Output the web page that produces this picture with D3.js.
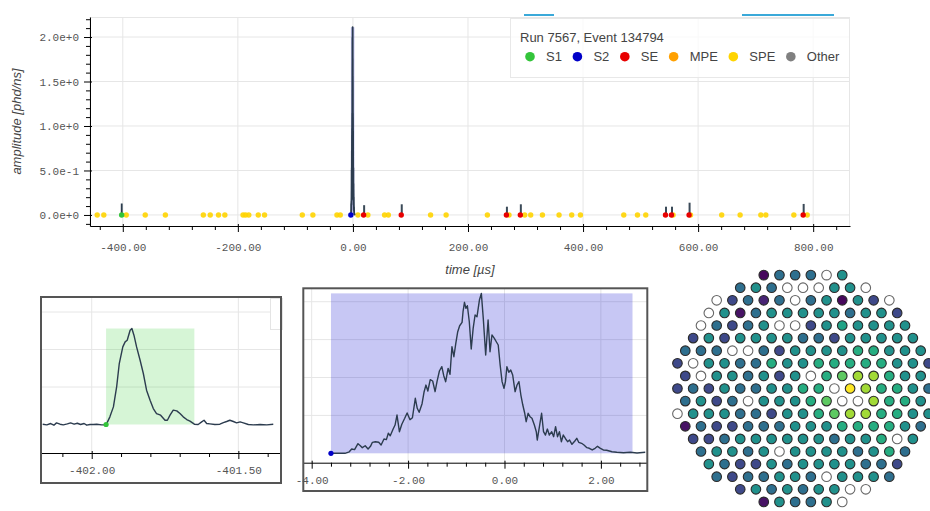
<!DOCTYPE html>
<html>
<head>
<meta charset="utf-8">
<script src="https://cdn.jsdelivr.net/npm/d3@7"></script>
<style>
  body { margin: 0; background: #fff; }
  svg { display: block; }
</style>
</head>
<body>
<svg id="chart" width="930" height="511"></svg>
<script>
// ---------------- event data ----------------
const eventTitle = "Run 7567, Event 134794";
const legendLabels = ["S1", "S2", "SE", "MPE", "SPE", "Other"];
const legendColors = ["#33c43a", "#0000c8", "#e80000", "#ffa000", "#ffd400", "#808080"];

// main time axis (µs) and amplitude axis (phd/ns)
const mainTicksX = [-400, -200, 0, 200, 400, 600, 800];
const mainTicksY = [0, 0.5, 1.0, 1.5, 2.0];

// single photoelectron pulse times (µs)
const speTimes = [-444.5, -433, -394, -361, -326, -260, -248, -233.6, -222.6, -191, -186.6, -181,
  -164.5, -153.6, -88, -69.6, -27.8, -22, 8.7, 26, 55, 61.6, 135, 162, 233.7, 271.3, 298.6, 309,
  329.4, 358.3, 380.3, 395.5, 470.8, 494.6, 509, 556.5, 586.8, 641, 673, 709, 717.7, 766.4, 789.6];

// single electron pulses: start time (µs) and peak amplitude (phd/ns)
const seTimes = [18.6, 84, 266.8, 291, 543.3, 553.7, 584.3, 782.6];
const sePeaks = [0.11, 0.12, 0.093, 0.12, 0.093, 0.093, 0.138, 0.124];

// S1 waveform (µs, phd/ns) and pulse window
const s1Time = [-402.167, -402.153, -402.140, -402.129, -402.120, -402.108, -402.097, -402.083,
  -402.072, -402.060, -402.049, -402.038, -402.026, -402.017, -402.006, -401.994, -401.983,
  -401.966, -401.951, -401.938, -401.926, -401.915, -401.906, -401.894, -401.886, -401.879,
  -401.869, -401.863, -401.856, -401.847, -401.835, -401.824, -401.813, -401.801, -401.790,
  -401.779, -401.765, -401.750, -401.742, -401.733, -401.722, -401.710, -401.699, -401.688,
  -401.676, -401.665, -401.650, -401.637, -401.625, -401.617, -401.608, -401.597, -401.580,
  -401.563, -401.551, -401.540, -401.529, -401.517, -401.506, -401.494, -401.483, -401.466,
  -401.449, -401.426, -401.403, -401.381];
const s1Amp = [0.0004, -0.0005, 0.0013, -0.0009, 0.0022, 0.0004, -0.0005, 0.0008, 0.0022, 0.0004,
  0.0017, 0.0, 0.0013, -0.0009, 0.0, 0.0, 0.0004, -0.0005, -0.0005, 0.0102, 0.0235, 0.0502, 0.0813,
  0.1035, 0.1102, 0.1124, 0.1257, 0.1280, 0.1191, 0.1035, 0.0857, 0.0680, 0.0457, 0.0324, 0.0213,
  0.0146, 0.0124, 0.0057, 0.0057, 0.0124, 0.0191, 0.0182, 0.0146, 0.0102, 0.0066, 0.0044, 0.0004,
  0.0, 0.0035, 0.0057, 0.0013, 0.0008, 0.0, 0.0004, 0.0026, 0.0040, 0.0057, 0.0040, 0.0022, 0.0035,
  0.0022, 0.0, -0.0005, 0.0, -0.0005, 0.0004];
const s1Window = [-401.951, -401.650];

// S2 waveform (µs, phd/ns) and pulse window
const s2Time = [-3.60, -3.31, -3.22, -3.17, -3.11, -3.04, -2.99, -2.95, -2.89, -2.83, -2.78, -2.74,
  -2.68, -2.61, -2.56, -2.50, -2.45, -2.41, -2.37, -2.31, -2.27, -2.23, -2.18, -2.13, -2.07, -2.02,
  -1.96, -1.91, -1.85, -1.81, -1.77, -1.71, -1.67, -1.63, -1.59, -1.54, -1.49, -1.44, -1.40, -1.35,
  -1.30, -1.26, -1.22, -1.17, -1.13, -1.09, -1.05, -1.01, -0.97, -0.93, -0.88, -0.86, -0.83, -0.80,
  -0.77, -0.73, -0.69, -0.65, -0.61, -0.57, -0.52, -0.48, -0.44, -0.39, -0.34, -0.30, -0.26, -0.21,
  -0.17, -0.13, -0.09, -0.05, -0.01, 0.02, 0.05, 0.09, 0.13, 0.17, 0.22, 0.26, 0.30, 0.34, 0.38,
  0.42, 0.45, 0.49, 0.53, 0.57, 0.62, 0.66, 0.68, 0.73, 0.77, 0.81, 0.85, 0.89, 0.93, 0.98, 1.02,
  1.06, 1.10, 1.14, 1.18, 1.22, 1.27, 1.31, 1.35, 1.40, 1.46, 1.50, 1.54, 1.60, 1.65, 1.71, 1.76,
  1.82, 1.88, 1.93, 1.99, 2.05, 2.12, 2.23, 2.33, 2.47, 2.61, 2.75, 2.92];
const s2Amp = [0, 0, 0.02, 0.057, 0.048, 0.127, 0.10, 0.074, 0.10, 0.057, 0.092, 0.145, 0.153,
  0.145, 0.11, 0.189, 0.18, 0.264, 0.232, 0.32, 0.373, 0.505, 0.285, 0.383, 0.462, 0.532, 0.443,
  0.47, 0.726, 0.594, 0.541, 0.654, 0.805, 0.90, 0.822, 0.971, 0.954, 0.813, 0.945, 1.086, 1.143,
  1.024, 0.945, 1.121, 1.042, 1.406, 1.274, 1.451, 1.604, 1.683, 1.728, 1.868, 1.992, 1.913, 1.947,
  1.736, 1.376, 1.649, 1.825, 1.802, 2.022, 2.11, 1.78, 1.297, 1.759, 1.34, 1.561, 1.517, 1.472,
  1.429, 1.165, 0.945, 0.858, 0.945, 1.143, 1.069, 1.099, 1.033, 0.813, 0.901, 0.945, 0.769, 0.637,
  0.528, 0.417, 0.528, 0.483, 0.462, 0.373, 0.285, 0.175, 0.373, 0.528, 0.285, 0.241, 0.32, 0.241,
  0.285, 0.219, 0.351, 0.219, 0.285, 0.153, 0.241, 0.189, 0.153, 0.175, 0.119, 0.162, 0.198, 0.145,
  0.132, 0.11, 0.074, 0.066, 0.044, 0.066, 0.092, 0.066, 0.044, 0.04, 0.02, 0.013, 0.008, 0.013,
  0.004, 0.013];
const s2Window = [-3.60, 2.656];

// inset axes
const s1TicksX = [-402.0, -401.5];
const s1MinorX = [-402.1, -401.9, -401.8, -401.7, -401.6, -401.4];
const s1GridY = [0.05, 0.10, 0.15];
const s2TicksX = [-4, -2, 0, 2];
const s2MinorX = [-3.6, -3.2, -2.8, -2.4, -1.6, -1.2, -0.8, -0.4, 0.4, 0.8, 1.2, 1.6, 2.4, 2.8];
const s2GridY = [0.5, 1.0, 1.5, 2.0];

// top PMT array: normalised S2 light per PMT, one list per hexagonal row (0 = no hit)
const hitRows = [
  [0.02, 0.36, 0.36, 0.36, 0, 0.5],
  [0.36, 0.5, 0.36, 0, 0, 0, 0.5, 0.5, 0],
  [0, 0.22, 0.36, 0.1, 0.36, 0, 0.36, 0.5, 0.02, 0.5, 0.22, 0],
  [0, 0.5, 0.05, 0.36, 0.5, 0.5, 0.5, 0.5, 0.5, 0.36, 0.5, 0.5, 0.22],
  [0, 0.36, 0.22, 0.36, 0.5, 0, 0, 0.22, 0.5, 0.58, 0.5, 0.5, 0.5, 0.5],
  [0.22, 0.5, 0.22, 0.5, 0.5, 0.5, 0.5, 0.36, 0.36, 0.22, 0.5, 0.5, 0.5, 0.5, 0.5],
  [0.36, 0.36, 0.36, 0, 0, 0.36, 0.22, 0.5, 0.5, 0.5, 0.5, 0.62, 0.62, 0.5, 0.5, 0.5],
  [0.22, 0, 0.5, 0.5, 0.36, 0.36, 0.62, 0.5, 0.5, 0.62, 0.62, 0.62, 0.62, 0.62, 0.5, 0.5, 0.22],
  [0.22, 0, 0.5, 0.5, 0.36, 0.5, 0.22, 0.5, 0, 0.62, 0.75, 0.86, 0.86, 0.62, 0.5, 0.5],
  [0.22, 0.36, 0.22, 0.5, 0.36, 0.36, 0.5, 0.5, 0.62, 0.62, 0, 1.0, 0.86, 0.62, 0.62, 0.5, 0.36],
  [0.36, 0.5, 0.22, 0.36, 0, 0.5, 0.5, 0.5, 0.62, 0.75, 0, 0, 0.86, 0.62, 0.62, 0.5],
  [0, 0.5, 0.5, 0.5, 0.36, 0.36, 0.22, 0.5, 0.5, 0.62, 0.75, 0.86, 0.86, 0.62, 0.62, 0.5, 0.5],
  [0.05, 0.36, 0.22, 0.22, 0.36, 0.36, 0.36, 0.5, 0.5, 0.5, 0.62, 0.62, 0.62, 0.62, 0.5, 0.36],
  [0.22, 0.22, 0.36, 0.5, 0.5, 0.5, 0.5, 0.5, 0.5, 0.36, 0.5, 0.5, 0.62, 0, 0.5],
  [0.36, 0.5, 0.5, 0.36, 0.5, 0, 0.5, 0.5, 0.5, 0.5, 0.36, 0.5, 0.62, 0.36],
  [0.5, 0.36, 0.22, 0.22, 0.5, 0.36, 0.5, 0.5, 0.5, 0.5, 0.36, 0.36, 0.22],
  [0.36, 0.22, 0.36, 0.36, 0.5, 0.5, 0.36, 0, 0.5, 0.5, 0.5, 0.36],
  [0.22, 0.5, 0.36, 0.5, 0.36, 0.5, 0.5, 0, 0],
  [0.05, 0.5, 0.36, 0.36, 0.5, 0]
];

// ---------------- drawing ----------------
const svg = d3.select("#chart");
const mono = "'Liberation Mono', 'DejaVu Sans Mono', monospace";
const sans = "'Liberation Sans', Arial, Helvetica, sans-serif";
const tickText = "#555";
const gridColor = "#e6e6e6";
const traceColor = "#2c3c4f";
const windowFill = { S1: "rgba(50,205,50,0.2)", S2: "rgba(0,0,205,0.22)" };
const colorOf = Object.fromEntries(legendLabels.map((l, i) => [l, legendColors[i]]));

// toolbar remnants along the top edge
svg.append("g").selectAll("line")
  .data([[524, 554], [742, 834]])
  .join("line")
  .attr("x1", d => d[0]).attr("x2", d => d[1])
  .attr("y1", 15).attr("y2", 15)
  .attr("stroke", "#3aa9d9").attr("stroke-width", 2);

// ===== main event timeline =====
const M = { left: 90, right: 850, top: 17, bottom: 226 };
const x = d3.scaleLinear().domain([-457, 864]).range([M.left, M.right]);
const y = d3.scaleLinear().domain([-0.124, 2.225]).range([M.bottom, M.top]);
const gMain = svg.append("g");

gMain.append("defs").append("clipPath").attr("id", "mainClip")
  .append("rect").attr("x", M.left).attr("y", M.top)
  .attr("width", M.right - M.left).attr("height", M.bottom - M.top);

gMain.selectAll("line.gx").data(mainTicksX).join("line").attr("class", "gx")
  .attr("x1", d => x(d)).attr("x2", d => x(d)).attr("y1", M.top).attr("y2", M.bottom)
  .attr("stroke", gridColor);
gMain.selectAll("line.gy").data(mainTicksY).join("line").attr("class", "gy")
  .attr("x1", M.left).attr("x2", M.right).attr("y1", d => y(d)).attr("y2", d => y(d))
  .attr("stroke", gridColor);
gMain.append("rect").attr("x", M.left).attr("y", M.top + 0.5)
  .attr("width", M.right - M.left - 0.5).attr("height", M.bottom - M.top)
  .attr("fill", "none").attr("stroke", gridColor);

const plotG = gMain.append("g").attr("clip-path", "url(#mainClip)");

// pulse windows
plotG.append("rect")
  .attr("x", x(s2Window[0])).attr("width", x(s2Window[1]) - x(s2Window[0]))
  .attr("y", y(d3.max(s2Amp))).attr("height", y(0) - y(d3.max(s2Amp)))
  .attr("fill", windowFill.S2);
plotG.append("rect")
  .attr("x", x(s1Window[0])).attr("width", Math.max(0.6, x(s1Window[1]) - x(s1Window[0])))
  .attr("y", y(d3.max(s1Amp))).attr("height", y(0) - y(d3.max(s1Amp)))
  .attr("fill", windowFill.S1);

// SPE markers
plotG.selectAll("circle.spe").data(speTimes).join("circle").attr("class", "spe")
  .attr("cx", d => x(d)).attr("cy", y(0)).attr("r", 2.7)
  .attr("fill", colorOf.SPE).attr("opacity", 0.9);

// SE pulses
plotG.selectAll("line.se").data(seTimes.map((t, i) => ({ t, p: sePeaks[i] }))).join("line")
  .attr("class", "se")
  .attr("x1", d => x(d.t) + 0.5).attr("x2", d => x(d.t) + 0.5)
  .attr("y1", y(0)).attr("y2", d => y(d.p))
  .attr("stroke", "#3b4a58").attr("stroke-width", 2);

// S1 and S2 waveforms
const lineMain = d3.line().x(d => x(d[0])).y(d => y(d[1]));
plotG.append("path").datum(d3.zip(s1Time, s1Amp)).attr("d", lineMain)
  .attr("fill", "none").attr("stroke", traceColor).attr("stroke-width", 1.8);
plotG.append("path").datum(d3.zip(s2Time, s2Amp)).attr("d", lineMain)
  .attr("fill", "none").attr("stroke", traceColor).attr("stroke-width", 1.8)
  .attr("stroke-linejoin", "round");

// pulse start markers
plotG.selectAll("circle.se").data(seTimes).join("circle").attr("class", "se")
  .attr("cx", d => x(d)).attr("cy", y(0)).attr("r", 2.7).attr("fill", colorOf.SE);
plotG.append("circle").attr("cx", x(s1Window[0])).attr("cy", y(0)).attr("r", 2.7).attr("fill", colorOf.S1);
plotG.append("circle").attr("cx", x(s2Window[0])).attr("cy", y(0)).attr("r", 2.7).attr("fill", colorOf.S2);

// axes
function styleAxis(g) {
  g.select(".domain").attr("stroke", "#000");
  g.selectAll(".tick line").attr("stroke", "#000");
  g.selectAll(".tick text").attr("font-family", mono).attr("font-size", 11).attr("fill", tickText);
}
const minorXMain = d3.range(-440, 841, 40).filter(v => v % 200 !== 0);
gMain.append("g").attr("transform", `translate(0,${M.bottom})`)
  .call(d3.axisBottom(x).tickValues(minorXMain).tickSize(4).tickFormat(""))
  .call(g => { g.select(".domain").remove(); g.selectAll("line").attr("stroke", "#000"); });
gMain.append("g").attr("transform", `translate(0,${M.bottom})`)
  .call(d3.axisBottom(x).tickValues(mainTicksX).tickFormat(d => d.toFixed(2))
    .tickSizeInner(6).tickSizeOuter(0).tickPadding(11))
  .call(styleAxis)
  .call(g => g.selectAll(".tick line").attr("y1", -2));

const minorYMain = d3.range(-1, 23).filter(i => i % 5 !== 0).map(i => i / 10);
gMain.append("g").attr("transform", `translate(${M.left},0)`)
  .call(d3.axisLeft(y).tickValues(minorYMain).tickSize(4).tickFormat(""))
  .call(g => { g.select(".domain").remove(); g.selectAll("line").attr("stroke", "#000"); });
gMain.append("g").attr("transform", `translate(${M.left},0)`)
  .call(d3.axisLeft(y).tickValues(mainTicksY).tickFormat(d => d.toExponential(1))
    .tickSizeInner(6).tickSizeOuter(0).tickPadding(5))
  .call(styleAxis)
  .call(g => g.selectAll(".tick line").attr("x1", 2));

gMain.append("text").attr("x", (M.left + M.right) / 2).attr("y", 274)
  .attr("text-anchor", "middle").attr("font-family", sans).attr("font-style", "italic")
  .attr("font-size", 13).attr("fill", "#444").text("time [µs]");
gMain.append("text")
  .attr("transform", `translate(21,${(M.top + M.bottom) / 2}) rotate(-90)`)
  .attr("text-anchor", "middle").attr("font-family", sans).attr("font-style", "italic")
  .attr("font-size", 13).attr("fill", "#444").text("amplitude [phd/ns]");

// legend
const leg = gMain.append("g");
leg.append("rect").attr("x", 510.5).attr("y", 18.5).attr("width", 339).attr("height", 59)
  .attr("fill", "rgba(255,255,255,0.75)").attr("stroke", "#e8e8e8");
leg.append("text").attr("x", 520).attr("y", 41.5).attr("font-family", sans).attr("font-size", 13)
  .attr("fill", "#444").text(eventTitle);
let lx = 530;
legendLabels.forEach((lab, i) => {
  leg.append("circle").attr("cx", lx).attr("cy", 56.7).attr("r", 4.8).attr("fill", legendColors[i]);
  const t = leg.append("text").attr("x", lx + 16).attr("y", 61.4).attr("font-family", sans)
    .attr("font-size", 13).attr("fill", "#444").text(lab);
  lx = lx + 16 + t.node().getComputedTextLength() + 15.5;
});

// ===== pulse insets =====
function drawInset(o) {
  const g = svg.append("g");
  const xs = d3.scaleLinear().domain(o.xDomain).range([o.x0, o.x1]);
  const ys = d3.scaleLinear().domain(o.yDomain).range([o.axisY, o.y0]);
  const id = "clip" + o.name;
  g.append("defs").append("clipPath").attr("id", id).append("rect")
    .attr("x", o.x0).attr("y", o.y0).attr("width", o.x1 - o.x0).attr("height", o.axisY - o.y0);
  const p = g.append("g").attr("clip-path", `url(#${id})`);
  p.selectAll("line.gx").data(o.ticks).join("line").attr("class", "gx")
    .attr("x1", d => xs(d)).attr("x2", d => xs(d)).attr("y1", o.y0).attr("y2", o.axisY)
    .attr("stroke", gridColor);
  p.selectAll("line.gy").data(o.gridY).join("line").attr("class", "gy")
    .attr("x1", o.x0).attr("x2", o.x1).attr("y1", d => ys(d)).attr("y2", d => ys(d))
    .attr("stroke", gridColor);
  const top = d3.max(o.amp);
  p.append("rect").attr("x", xs(o.window[0])).attr("width", xs(o.window[1]) - xs(o.window[0]))
    .attr("y", ys(top)).attr("height", ys(0) - ys(top)).attr("fill", o.fill);
  p.append("path").datum(d3.zip(o.time, o.amp))
    .attr("d", d3.line().x(d => xs(d[0])).y(d => ys(d[1])))
    .attr("fill", "none").attr("stroke", traceColor).attr("stroke-width", 1.4)
    .attr("stroke-linejoin", "round");
  p.append("circle").attr("cx", xs(o.window[0])).attr("cy", ys(0)).attr("r", 2.6).attr("fill", o.dot);
  if (o.extra) o.extra(g);

  g.append("g").attr("transform", `translate(0,${o.axisY})`)
    .call(d3.axisBottom(xs).tickValues(o.minor).tickSize(4).tickFormat(""))
    .call(a => { a.select(".domain").remove(); a.selectAll("line").attr("stroke", "#000"); });
  g.append("g").attr("transform", `translate(0,${o.axisY})`)
    .call(d3.axisBottom(xs).tickValues(o.ticks).tickFormat(d => d.toFixed(2))
      .tickSizeInner(6).tickSizeOuter(0).tickPadding(o.pad))
    .call(styleAxis)
    .call(a => a.selectAll(".tick line").attr("y1", -2));
  g.append("rect").attr("x", o.x0).attr("y", o.y0).attr("width", o.x1 - o.x0)
    .attr("height", o.y1 - o.y0).attr("fill", "none").attr("stroke", "#555").attr("stroke-width", 2);
}

drawInset({
  name: "S1", x0: 41, x1: 281, y0: 297, y1: 483, axisY: 453, pad: 7,
  xDomain: [-402.1729, -401.3546], yDomain: [-0.038, 0.17],
  ticks: s1TicksX, minor: s1MinorX, gridY: s1GridY,
  time: s1Time, amp: s1Amp, window: s1Window, fill: windowFill.S1, dot: colorOf.S1,
  extra: g => g.append("rect").attr("x", 270.5).attr("y", 298.5).attr("width", 12).attr("height", 31)
    .attr("fill", "#fff").attr("stroke", "#e4e4e4")
});
drawInset({
  name: "S2", x0: 303.3, x1: 647.3, y0: 288.3, y1: 491, axisY: 462.7, pad: 7.5,
  xDomain: [-4.174, 2.963], yDomain: [-0.124, 2.177],
  ticks: s2TicksX, minor: s2MinorX, gridY: s2GridY,
  time: s2Time, amp: s2Amp, window: s2Window, fill: windowFill.S2, dot: colorOf.S2
});

// ===== top PMT array hit pattern =====
const pmtX = d3.scaleLinear().domain([-1, 1]).range([680, 926]);
const pmtY = d3.scaleLinear().domain([-1, 1]).range([502.5, 274.5]);
const pitch = 0.1276;
const rowPitch = pitch * Math.sqrt(3) / 2;
const pmts = [];
hitRows.forEach((row, r) => {
  const j = r - (hitRows.length - 1) / 2;
  row.forEach((v, i) => pmts.push({ px: (i - (row.length - 1) / 2) * pitch, py: -j * rowPitch, v }));
});
svg.append("g").selectAll("circle").data(pmts).join("circle")
  .attr("cx", d => pmtX(d.px)).attr("cy", d => pmtY(d.py)).attr("r", 4.8)
  .attr("fill", d => d.v === 0 ? "#fff" : d3.interpolateViridis(d.v))
  .attr("stroke", d => d.v === 0 ? "#666" : "#2a2a2a").attr("stroke-width", 1.1);
</script>
</body>
</html>
